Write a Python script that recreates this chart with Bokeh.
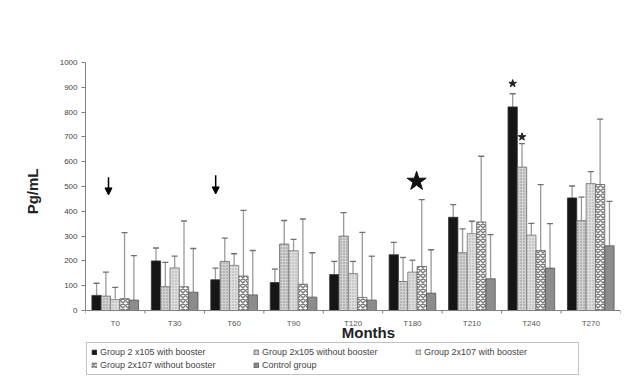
import numpy as np
from bokeh.plotting import figure
from bokeh.models import (Range1d, FixedTicker, Whisker, TeeHead, Arrow, NormalHead,
                          Legend, LegendItem, ColumnDataSource, Title)
from bokeh.core.properties import value
from bokeh.transform import dodge
from bokeh.embed import file_html
from bokeh.resources import INLINE

# ---- data ----
categories = ["T0", "T30", "T60", "T90", "T120", "T180", "T210", "T240", "T270"]
series_names = ["Group 2 x105 with booster", "Group 2x105 without booster",
                "Group 2x107 with booster", "Group 2x107 without booster", "Control group"]
g1 = [61, 200, 124, 113, 145, 225, 376, 821, 454]
g1_err = [110, 252, 171, 167, 198, 275, 427, 874, 502]
g2 = [58, 96, 198, 268, 300, 117, 233, 578, 362]
g2_err = [155, 194, 292, 363, 395, 214, 329, 673, 457]
g3 = [44, 172, 182, 241, 149, 155, 310, 304, 512]
g3_err = [93, 219, 229, 287, 198, 203, 360, 351, 560]
g4 = [48, 96, 139, 106, 53, 178, 357, 242, 508]
g4_err = [314, 361, 404, 369, 315, 447, 622, 508, 772]
ctrl = [42, 74, 63, 54, 42, 70, 128, 171, 261]
ctrl_err = [221, 250, 242, 233, 219, 245, 306, 350, 440]
y_ticks = [0, 100, 200, 300, 400, 500, 600, 700, 800, 900, 1000]

# annotations: (category, series index, y value)
sig_stars = [("T240", 0, 915), ("T240", 1, 700)]
big_star = ("T180", 521)
arrows = [("T0", 537, 466), ("T60", 545, 470)]

values = [g1, g2, g3, g4, ctrl]
errors = [g1_err, g2_err, g3_err, g4_err, ctrl_err]

FONT = "Liberation Sans"
bw = 0.157
offsets = [(k - 2) * bw for k in range(5)]
n = len(categories)

centers = np.arange(n) + 0.5
data = {"x": centers}
for k in range(5):
    data[f"v{k}"] = values[k]
    data[f"e{k}"] = errors[k]
src = ColumnDataSource(data)

# frame extends below zero so the x labels and legend live inside it
Y_BOTTOM = -266
p = figure(width=625, height=376, output_backend="svg", toolbar_location=None,
           x_axis_location=None,
           x_range=Range1d(0, n), y_range=Range1d(Y_BOTTOM, 1000),
           min_border_left=85, min_border_right=5, min_border_top=62, min_border_bottom=0)
p.outline_line_color = None
p.grid.grid_line_color = None
p.background_fill_color = "white"
p.border_fill_color = "white"

styles = [
    dict(fill_color="#161616", line_color="#333333"),
    dict(fill_color="#d2d2d2", line_color="#666666", hatch_pattern="dot",
         hatch_color="#8a8a8a", hatch_scale=3, hatch_weight=1),
    dict(fill_color="#dedede", line_color="#777777", hatch_pattern="dot",
         hatch_color="#a5a5a5", hatch_scale=3, hatch_weight=1),
    dict(fill_color="#ffffff", line_color="#666666", hatch_pattern="diagonal_cross",
         hatch_color="#7d7d7d", hatch_scale=5, hatch_weight=1.5),
    dict(fill_color="#8c8c8c", line_color="#555555"),
]

renderers = []
for k in range(5):
    r = p.vbar(x=dodge("x", offsets[k]), top=f"v{k}", width=bw, bottom=0,
               source=src, line_width=0.8, **styles[k])
    renderers.append(r)
    w = Whisker(source=src, base=dodge("x", offsets[k]), upper=f"e{k}", lower=f"v{k}",
                line_color="#9a9a9a", line_width=1.3,
                upper_head=TeeHead(size=6, line_color="#707070", line_width=1.3),
                lower_head=None)
    p.add_layout(w)

# x axis line, boundary ticks, category labels, axis title
p.segment(x0=[0], y0=[0], x1=[n], y1=[0], line_color="#808080", line_width=1)
bounds = list(range(n + 1))
p.segment(x0=bounds, y0=[0] * len(bounds), x1=bounds, y1=[-12] * len(bounds),
          line_color="#808080", line_width=1)
p.text(x=list(centers), y=[-52] * n, text=categories, text_font=value(FONT),
       text_font_size="8px", text_color="#555555", text_align="center",
       text_baseline="middle")
p.text(x=[4.76], y=[-90], text=["Months"], text_font=value(FONT),
       text_font_size="15px", text_font_style="bold", text_color="#222222",
       text_align="center", text_baseline="middle")

# significance stars
sx = [categories.index(c) + 0.5 + offsets[k] for c, k, _ in sig_stars]
sy = [y for _, _, y in sig_stars]
p.scatter(sx, sy, marker="star", size=8, fill_color="#222222", line_color="#222222")
p.scatter([categories.index(big_star[0]) + 0.57], [big_star[1]], marker="star", size=20,
          fill_color="#111111", line_color="#111111")

for c, y0, y1 in arrows:
    xi = categories.index(c) + 0.5 + (-0.113 if c == "T0" else -0.31)
    p.add_layout(Arrow(end=NormalHead(size=7, fill_color="black", line_color="black"),
                       x_start=xi, y_start=y0, x_end=xi, y_end=y1,
                       line_color="black", line_width=1.5))

# y axis
p.yaxis.ticker = FixedTicker(ticks=y_ticks)
p.yaxis.bounds = (0, 1000)
p.yaxis.major_label_text_font = FONT
p.yaxis.major_label_text_font_size = "8px"
p.yaxis.major_label_text_color = "#444444"
p.yaxis.major_tick_out = 4
p.yaxis.major_tick_in = 0
p.yaxis.minor_tick_line_color = None
p.yaxis.axis_line_color = "#808080"
p.yaxis.major_tick_line_color = "#808080"
p.yaxis.major_label_standoff = 4

# y axis title, centred on the 0-1000 span rather than the whole frame
p.add_layout(Title(text="Pg/mL", align="right", offset=106, text_font=FONT,
                   text_font_size="15px", text_font_style="bold", text_color="#222222",
                   standoff=32), "left")

# legend: column-major fill with 2 rows, ordered so rows read A B C / D E
order = [0, 3, 1, 4, 2]
legend = Legend(items=[LegendItem(label=series_names[i], renderers=[renderers[i]]) for i in order],
                nrows=2,
                glyph_width=6, glyph_height=6, label_standoff=3, label_width=150,
                label_height=10, spacing=3, padding=4, margin=0,
                label_text_font=FONT, label_text_font_size="9px", label_text_color="#444444",
                border_line_color="#888888", border_line_width=1,
                background_fill_color="white",
                location=(1, 1))
p.add_layout(legend, "center")

open("out.html", "w").write(file_html(p, INLINE))
